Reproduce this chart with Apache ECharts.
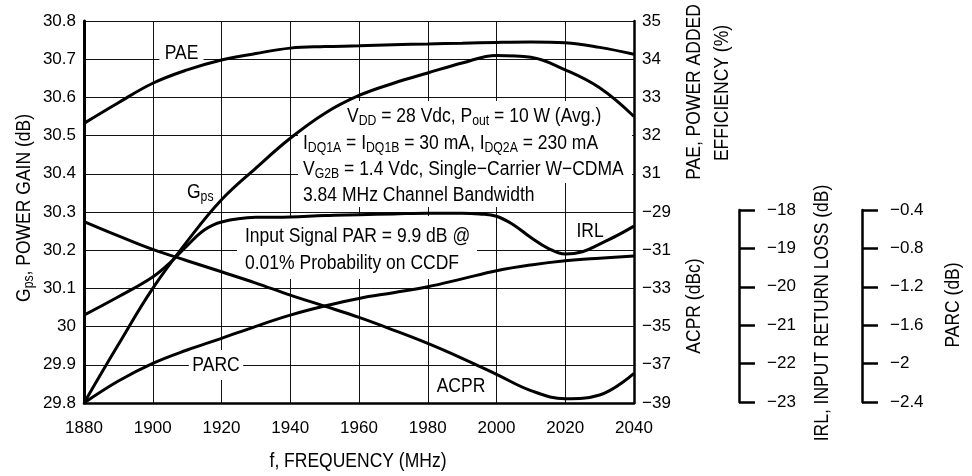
<!DOCTYPE html>
<html><head><meta charset="utf-8">
<script src="https://cdn.jsdelivr.net/npm/echarts@6/dist/echarts.min.js"></script>
<style>html,body{margin:0;padding:0;background:#fff}#c{width:972px;height:476px}</style>
</head><body><div id="c"></div>
<script>
// ---- data ----
const freqs = [1880,1890,1900,1910,1920,1930,1940,1950,1960,1970,1980,1990,2000,2010,2020,2030,2040];
const gps  = [29.80,29.953,30.10,30.223,30.332,30.415,30.493,30.558,30.605,30.637,30.664,30.69,30.71,30.705,30.672,30.625,30.55];
const pae  = [32.32,32.86,33.37,33.72,33.98,34.15,34.29,34.33,34.35,34.38,34.40,34.42,34.44,34.45,34.43,34.31,34.13];
const acpr = [-29.50,-30.25,-30.96,-31.55,-32.13,-32.72,-33.35,-33.93,-34.52,-35.18,-35.88,-36.66,-37.50,-38.35,-38.78,-38.58,-37.45];
const parc = [-2.40,-2.17,-1.985,-1.845,-1.723,-1.597,-1.48,-1.385,-1.305,-1.245,-1.183,-1.10,-1.015,-0.955,-0.911,-0.884,-0.862];
const irlFreqs = [1880,1890,1900,1905,1910,1915,1920,1930,1940,1950,1960,1970,1980,1990,1995,2000,2005,2010,2015,2020,2025,2030,2035,2040];
const irl  = [-20.70,-20.22,-19.70,-19.33,-18.88,-18.47,-18.26,-18.14,-18.13,-18.09,-18.07,-18.05,-18.03,-18.03,-18.05,-18.11,-18.34,-18.67,-18.95,-19.10,-19.04,-18.84,-18.62,-18.37];
// tick labels
const paeTickLabels  = [31,32,33,34,35];
const acprTickLabels = [-39,-37,-35,-33,-31,-29];
const irlTickLabels  = [-23,-22,-21,-20,-19,-18];
const parcTickLabels = [-2.4,-2,-1.6,-1.2,-0.8,-0.4];

const FONT = '"Liberation Sans","Helvetica","Arial",sans-serif';
const BLACK = '#000';
const fmtNum = v => String(+(+v).toFixed(2)).replace('-', '\u2212');
const pairs = (xs, arr) => xs.map((f, i) => [f, arr[i]]);
const near = (list, v) => list.some(t => Math.abs(t - v) < 1e-6);

const lbl = {color: BLACK, fontSize: 17, fontFamily: FONT};
const splitStyle = {show: true, lineStyle: {color: '#111', width: 1}};

const chart = echarts.init(document.getElementById('c'), null, {renderer: 'canvas'});

const lineSeries = (name, yIdx, xs, arr) => ({
  name, type: 'line', xAxisIndex: 0, yAxisIndex: yIdx, data: pairs(xs, arr),
  smooth: 0.4, symbol: 'none', silent: true, z: 3,
  lineStyle: {color: BLACK, width: 3}
});

const SX = 0.875;
const T = (x, y, text, extra, rot) => ({
  type: 'text', x, y, z: 2, silent: true, scaleX: SX, rotation: rot ? Math.PI / 2 : 0,
  style: Object.assign({text, fill: BLACK, fontSize: 20, fontFamily: FONT, align: 'center', verticalAlign: 'middle'}, extra || {})
});
const R = (x, y, w, h) => ({type: 'rect', z: 1, silent: true, shape: {x, y, width: w, height: h}, style: {fill: '#fff'}});
const rich = {
  n: {fill: BLACK, fontSize: 20, fontFamily: FONT, lineHeight: 26},
  s: {fill: BLACK, fontSize: 14, fontFamily: FONT, lineHeight: 14, padding: [10, 0, 0, 0]}
};

const noZero = {onZero: false};

chart.setOption({
  animation: false,
  textStyle: {fontFamily: FONT},
  grid: [
    {left: 84, top: 21, width: 550, height: 382},
    {left: 700, top: 210, width: 39, height: 192},
    {left: 823, top: 210, width: 39, height: 192}
  ],
  xAxis: [
    {gridIndex: 0, type: 'value', min: 1880, max: 2040, interval: 20,
     axisLine: {onZero: false, lineStyle: {color: BLACK, width: 2.5}}, axisTick: {show: false},
     splitLine: splitStyle, axisLabel: Object.assign({margin: 17, formatter: v => String(v)}, lbl)},
    {gridIndex: 1, type: 'value', show: false, min: 0, max: 1, axisLine: noZero},
    {gridIndex: 2, type: 'value', show: false, min: 0, max: 1, axisLine: noZero}
  ],
  yAxis: [
    {gridIndex: 0, type: 'value', position: 'left', min: 29.8, max: 30.8, interval: 0.1,
     axisLine: {show: true, onZero: false, lineStyle: {color: BLACK, width: 3}}, axisTick: {show: false},
     splitLine: splitStyle,
     axisLabel: Object.assign({margin: 8, formatter: v => String(+(+v).toFixed(1))}, lbl)},
    {gridIndex: 0, type: 'value', position: 'right', min: 25, max: 35, interval: 1,
     axisLine: {show: true, onZero: false, lineStyle: {color: BLACK, width: 2.5}}, axisTick: {show: false},
     splitLine: {show: false},
     axisLabel: Object.assign({margin: 8, formatter: v => near(paeTickLabels, v) ? fmtNum(v) : ''}, lbl)},
    {gridIndex: 0, type: 'value', position: 'right', min: -39, max: -19, interval: 2,
     axisLine: {show: false, onZero: false}, axisTick: {show: false}, splitLine: {show: false},
     axisLabel: Object.assign({margin: 8, formatter: v => near(acprTickLabels, v) ? fmtNum(v) : ''}, lbl)},
    {gridIndex: 0, type: 'value', show: false, min: -23, max: -13, axisLine: noZero},
    {gridIndex: 0, type: 'value', show: false, min: -2.4, max: 1.6, axisLine: noZero},
    {gridIndex: 1, type: 'value', position: 'right', min: -23, max: -18, interval: 1,
     axisLine: {show: true, onZero: false, lineStyle: {color: BLACK, width: 2.5}},
     axisTick: {show: true, length: 16, lineStyle: {color: BLACK, width: 2.5}},
     splitLine: {show: false},
     axisLabel: Object.assign({margin: 28, formatter: v => near(irlTickLabels, v) ? fmtNum(v) : ''}, lbl)},
    {gridIndex: 2, type: 'value', position: 'right', min: -2.4, max: -0.4, interval: 0.4,
     axisLine: {show: true, onZero: false, lineStyle: {color: BLACK, width: 2.5}},
     axisTick: {show: true, length: 16, lineStyle: {color: BLACK, width: 2.5}},
     splitLine: {show: false},
     axisLabel: Object.assign({margin: 28, formatter: v => near(parcTickLabels, v) ? fmtNum(v) : ''}, lbl)}
  ],
  graphic: [
    // white backgrounds behind annotation text
    R(340, 101, 292, 29), R(298, 130, 334, 53), R(298, 183, 247, 24),
    R(237, 216, 240, 63),
    // axis titles
    T(24, 208, '{n|G}{s|ps}{n|, POWER GAIN (dB)}', {rich}, true),
    T(358, 461, 'f, FREQUENCY (MHz)'),
    T(694, 92, 'PAE, POWER ADDED', null, true),
    T(722, 93, 'EFFICIENCY (%)', null, true),
    T(694, 306, 'ACPR (dBc)', null, true),
    T(822, 313, 'IRL, INPUT RETURN LOSS (dB)', null, true),
    T(953, 305, 'PARC (dB)', null, true),
    // annotation
    T(347, 116, '{n|V}{s|DD}{n| = 28 Vdc, P}{s|out}{n| = 10 W (Avg.)}', {rich, align: 'left'}),
    T(303, 143, '{n|I}{s|DQ1A}{n| = I}{s|DQ1B}{n| = 30 mA, I}{s|DQ2A}{n| = 230 mA}', {rich, align: 'left'}),
    T(303, 169, '{n|V}{s|G2B}{n| = 1.4 Vdc, Single\u2212Carrier W\u2212CDMA}', {rich, align: 'left'}),
    T(303, 195, '3.84 MHz Channel Bandwidth', {align: 'left'}),
    T(245, 250, 'Input Signal PAR = 9.9 dB @\n0.01% Probability on CCDF', {align: 'left', lineHeight: 27}),
    // curve labels
    T(181.5, 53, 'PAE', {backgroundColor: '#fff', padding: [2, 6]}),
    T(187, 192, '{n|G}{s|ps}', {rich, align: 'left'}),
    T(216, 365, 'PARC', {backgroundColor: '#fff', padding: [5, 4]}),
    T(590, 231, 'IRL'),
    T(461, 386, 'ACPR')
  ],
  series: [
    lineSeries('Gps', 0, freqs, gps),
    lineSeries('PAE', 1, freqs, pae),
    lineSeries('ACPR', 2, freqs, acpr),
    lineSeries('IRL', 3, irlFreqs, irl),
    lineSeries('PARC', 4, freqs, parc)
  ]
});
</script>
</body></html>
